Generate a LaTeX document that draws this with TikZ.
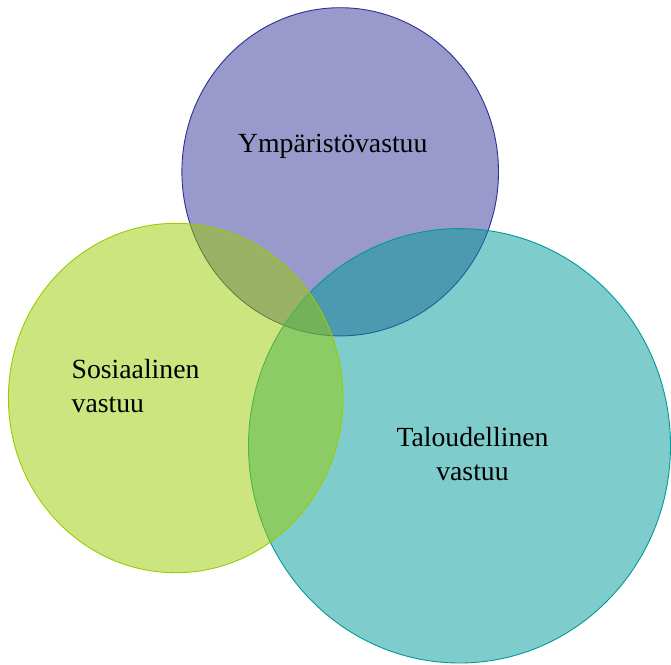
\documentclass[tikz,border=0pt]{standalone}
\usepackage{fontspec}
\setmainfont{Liberation Serif}
\definecolor{ympfill}{HTML}{333399}
\definecolor{ympline}{HTML}{2E3192}
\definecolor{sosfill}{HTML}{99CC00}
\definecolor{talfill}{HTML}{009999}
\newcommand{\vennfont}{\fontsize{27.7}{34.4}\selectfont}
\tikzset{
  lbl/.style={font=\vennfont, inner sep=0pt},
  ring/.style={line width=0.9pt, fill opacity=0.5}
}
\begin{document}
\begin{tikzpicture}[x=1pt,y=-1pt]
  \useasboundingbox (0,0) rectangle (671,664);

  \draw[ring, draw=ympline, fill=ympfill] (340.2,171.8) ellipse [x radius=158.3, y radius=164.1];
  \draw[ring, draw=talfill, fill=talfill] (459.5,445.8) ellipse [x radius=211, y radius=217.2];
  \draw[ring, draw=sosfill, fill=sosfill] (175.7,398) ellipse [x radius=167.3, y radius=174.7];

  \node[lbl, anchor=base] (ymp) at (332.8,152.3) {Ympäristövastuu};
  \node[lbl, align=left, anchor=base west] (sos) at (71.5,412.7) {Sosiaalinen\\vastuu};
  \node[lbl, align=center, anchor=base] (tal) at (472.5,480.7) {Taloudellinen\\vastuu};

\end{tikzpicture}
\end{document}
